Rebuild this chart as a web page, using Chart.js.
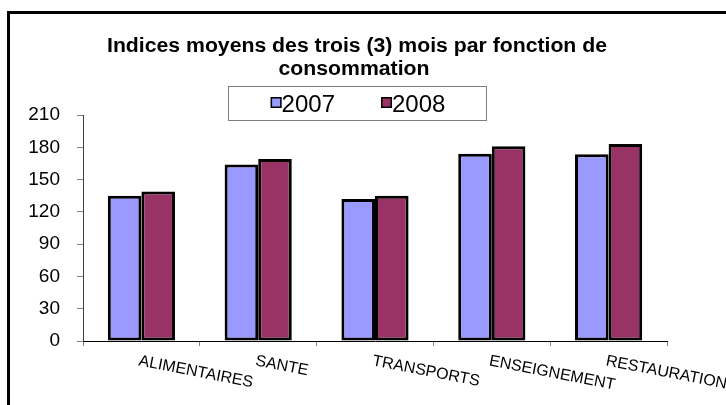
<!DOCTYPE html>
<html>
<head>
<meta charset="utf-8">
<script src="https://cdn.jsdelivr.net/npm/chart.js@4/dist/chart.umd.min.js"></script>
<style>
  html, body { margin: 0; padding: 0; background: #fff; }
  canvas { display: block; }
</style>
</head>
<body>
<canvas id="c" width="726" height="405"></canvas>
<script>
const categories = ['ALIMENTAIRES', 'SANTE', 'TRANSPORTS', 'ENSEIGNEMENT', 'RESTAURATION'];
const seriesLabels = ['2007', '2008'];
const values2007 = [135, 164, 132, 174, 173.5];
const values2008 = [139, 169, 135, 181, 183];
const yMin = 0;
const yMax = 210;
const yStep = 30;
const titleLines = ['Indices moyens des trois (3) mois par fonction de', 'consommation'];
const seriesColors = ['#9999FF', '#993366'];

const FONT = '"Liberation Sans", Arial, Helvetica, sans-serif';

const decor = {
  id: 'decor',
  beforeDraw(chart) {
    const ctx = chart.ctx;
    ctx.save();
    ctx.fillStyle = '#fff';
    ctx.fillRect(0, 0, chart.width, chart.height);
    ctx.strokeStyle = '#000';
    ctx.lineWidth = 3;
    ctx.strokeRect(8.5, 12.5, 900, 600);
    ctx.restore();
  },
  afterDraw(chart) {
    const ctx = chart.ctx;
    ctx.save();
    // Title
    ctx.fillStyle = '#000';
    ctx.font = 'bold 20px ' + FONT;
    ctx.textAlign = 'center';
    ctx.textBaseline = 'alphabetic';
    const w1 = ctx.measureText(titleLines[0]).width;
    const sx = 500 / w1;
    ctx.save();
    ctx.translate(357, 52);
    ctx.scale(sx, 1);
    ctx.fillText(titleLines[0], 0, 0);
    ctx.restore();
    ctx.save();
    ctx.translate(354, 75);
    ctx.scale(sx, 1);
    ctx.fillText(titleLines[1], 0, 0);
    ctx.restore();

    // Legend
    ctx.font = '24px ' + FONT;
    const sq = 11, gap = 46;
    const items = chart.data.datasets.map(d => ({ label: d.label, color: d.backgroundColor, w: sq + ctx.measureText(d.label).width }));
    const total = items.reduce((a, it) => a + it.w, 0) + gap * (items.length - 1);
    const cx = 358;
    ctx.strokeStyle = '#808080';
    ctx.lineWidth = 1;
    ctx.strokeRect(228.5, 86.5, 258, 34);
    let x = cx - total / 2;
    items.forEach(it => {
      ctx.fillStyle = it.color;
      ctx.fillRect(x, 97, sq, sq);
      ctx.strokeStyle = '#000';
      ctx.lineWidth = 1.5;
      ctx.strokeRect(x + 0.75, 97.75, sq - 1.5, sq - 1.5);
      ctx.fillStyle = '#000';
      ctx.textAlign = 'left';
      ctx.fillText(it.label, x + sq, 112);
      x += it.w + gap;
    });

    // Rotated category labels
    const xs = chart.scales.x;
    ctx.font = '16px ' + FONT;
    ctx.fillStyle = '#000';
    ctx.textAlign = 'left';
    ctx.textBaseline = 'top';
    categories.forEach((c, i) => {
      const px = xs.getPixelForValue(i);
      ctx.save();
      ctx.translate(px - 1, xs.top + 12);
      ctx.rotate(11 * Math.PI / 180);
      ctx.fillText(c, 0, 0);
      ctx.restore();
    });
    ctx.restore();
  }
};

new Chart(document.getElementById('c'), {
  type: 'bar',
  data: {
    labels: categories,
    datasets: [
      { label: seriesLabels[0], data: values2007, backgroundColor: seriesColors[0] },
      { label: seriesLabels[1], data: values2008, backgroundColor: seriesColors[1] }
    ]
  },
  options: {
    responsive: false,
    animation: false,
    devicePixelRatio: 1,
    layout: { padding: { left: 0, right: 59, top: 115, bottom: 0 } },
    datasets: {
      bar: {
        borderColor: '#000',
        borderWidth: 3,
        borderSkipped: false,
        categoryPercentage: 0.575,
        barPercentage: 1.0
      }
    },
    plugins: {
      legend: { display: false },
      title: { display: false },
      tooltip: { enabled: false }
    },
    scales: {
      x: {
        grid: { display: true, drawOnChartArea: false, drawTicks: true, tickLength: 5, offset: true, color: '#808080' },
        border: { color: '#000', width: 1 },
        ticks: { display: false },
        afterFit: s => { s.height = 64; }
      },
      y: {
        min: yMin,
        max: yMax,
        ticks: { stepSize: yStep, color: '#000', padding: 17, font: { family: FONT, size: 19 } },
        grid: { drawOnChartArea: false, tickLength: 6, color: '#808080' },
        border: { color: '#404040', width: 1 },
        afterFit: s => { s.width = 83; }
      }
    }
  },
  plugins: [decor]
});
</script>
</body>
</html>
